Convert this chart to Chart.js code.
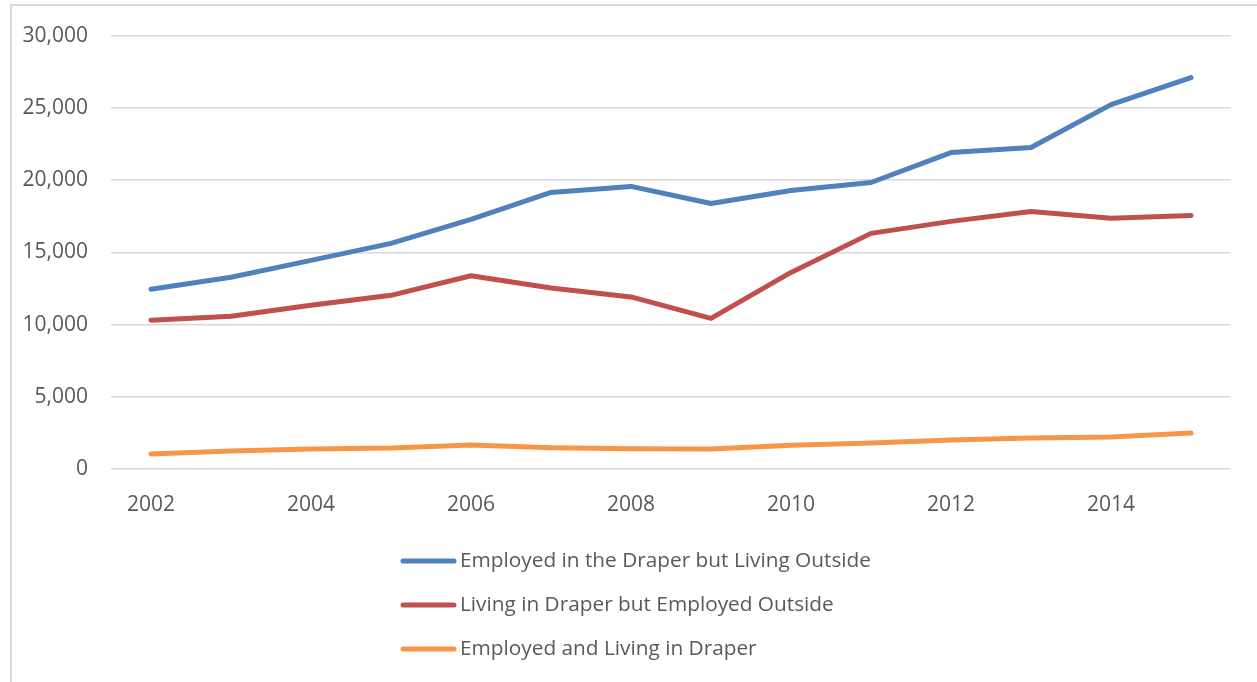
<!DOCTYPE html>
<html>
<head>
<meta charset="utf-8">
<title>Draper commuting</title>
<script src="https://cdn.jsdelivr.net/npm/chart.js@4/dist/chart.umd.min.js"></script>
<style>
  html, body { margin: 0; padding: 0; background: #fff; }
  canvas { display: block; }
</style>
</head>
<body>
<canvas id="chart" width="1257" height="682"></canvas>
<script>
const years = ["2002", "2003", "2004", "2005", "2006", "2007", "2008", "2009", "2010", "2011", "2012", "2013", "2014", "2015"]
const employedInLivingOutside = [12440, 13270, 14440, 15620, 17280, 19140, 19560, 18380, 19280, 19830, 21900, 22250, 25220, 27090]
const livingInEmployedOutside = [10300, 10570, 11330, 12020, 13380, 12530, 11910, 10430, 13610, 16310, 17140, 17830, 17350, 17550]
const employedAndLiving = [1040, 1240, 1380, 1450, 1660, 1470, 1400, 1380, 1650, 1800, 2000, 2140, 2210, 2490]
const yTicks = [0, 5000, 10000, 15000, 20000, 25000, 30000]

const textColor = "#595959"
const fontFamily = "'Open Sans', 'Liberation Sans', sans-serif"

// outer frame like the Excel chart area border
const framePlugin = {
  id: "frame",
  beforeDraw(chart) {
    const ctx = chart.ctx
    ctx.save()
    ctx.fillStyle = "#fff"
    ctx.fillRect(0, 0, chart.width, chart.height)
    ctx.strokeStyle = "#d9d9d9"
    ctx.lineWidth = 2
    ctx.strokeRect(11, 5, chart.width + 20, chart.height + 20)
    ctx.restore()
  }
}

// stacked legend under the plot, one series per row
const stackedLegend = {
  id: "stackedLegend",
  afterDraw(chart) {
    const ctx = chart.ctx
    const top = chart.chartArea.bottom + 92
    ctx.save()
    ctx.font = "20.8px " + fontFamily
    ctx.textBaseline = "middle"
    chart.data.datasets.forEach((ds, i) => {
      const y = top + i * 44
      ctx.strokeStyle = ds.borderColor
      ctx.lineWidth = 5
      ctx.lineCap = "round"
      ctx.beginPath()
      ctx.moveTo(403, y)
      ctx.lineTo(454, y)
      ctx.stroke()
      ctx.fillStyle = textColor
      ctx.fillText(ds.label, 460, y)
    })
    ctx.restore()
  }
}

function series(label, data, color) {
  return {
    label: label,
    data: data,
    borderColor: color,
    backgroundColor: color,
    borderWidth: 5,
    borderCapStyle: "round",
    borderJoinStyle: "round",
    pointRadius: 0,
    pointHoverRadius: 0,
    tension: 0,
    fill: false
  }
}

new Chart(document.getElementById("chart"), {
  type: "line",
  data: {
    labels: years,
    datasets: [
      series("Employed in the Draper but Living Outside", employedInLivingOutside, "#4F81BD"),
      series("Living in Draper but Employed Outside", livingInEmployedOutside, "#C0504D"),
      series("Employed and Living in Draper", employedAndLiving, "#F79646")
    ]
  },
  options: {
    responsive: false,
    animation: false,
    events: [],
    layout: {
      padding: { left: 11, top: 35, right: 26, bottom: 163 }
    },
    plugins: {
      legend: { display: false },
      tooltip: { enabled: false }
    },
    scales: {
      x: {
        offset: true,
        grid: { display: false },
        border: { display: false },
        ticks: {
          autoSkip: false,
          maxRotation: 0,
          padding: 15,
          color: textColor,
          font: { family: fontFamily, size: 21 },
          callback: (v, i) => (i % 2 === 0 ? years[i] : "")
        },
        afterFit: (scale) => { scale.height = 50 }
      },
      y: {
        min: yTicks[0],
        max: yTicks[yTicks.length - 1],
        afterBuildTicks: (scale) => { scale.ticks = yTicks.map(v => ({ value: v })) },
        grid: { color: "#d9d9d9", lineWidth: 1.5, drawTicks: false },
        border: { display: false },
        ticks: {
          padding: 23,
          color: textColor,
          font: { family: fontFamily, size: 21 },
          callback: (v) => v.toLocaleString("en-US")
        },
        afterFit: (scale) => { scale.width = 100 }
      }
    }
  },
  plugins: [framePlugin, stackedLegend]
})
</script>
</body>
</html>
